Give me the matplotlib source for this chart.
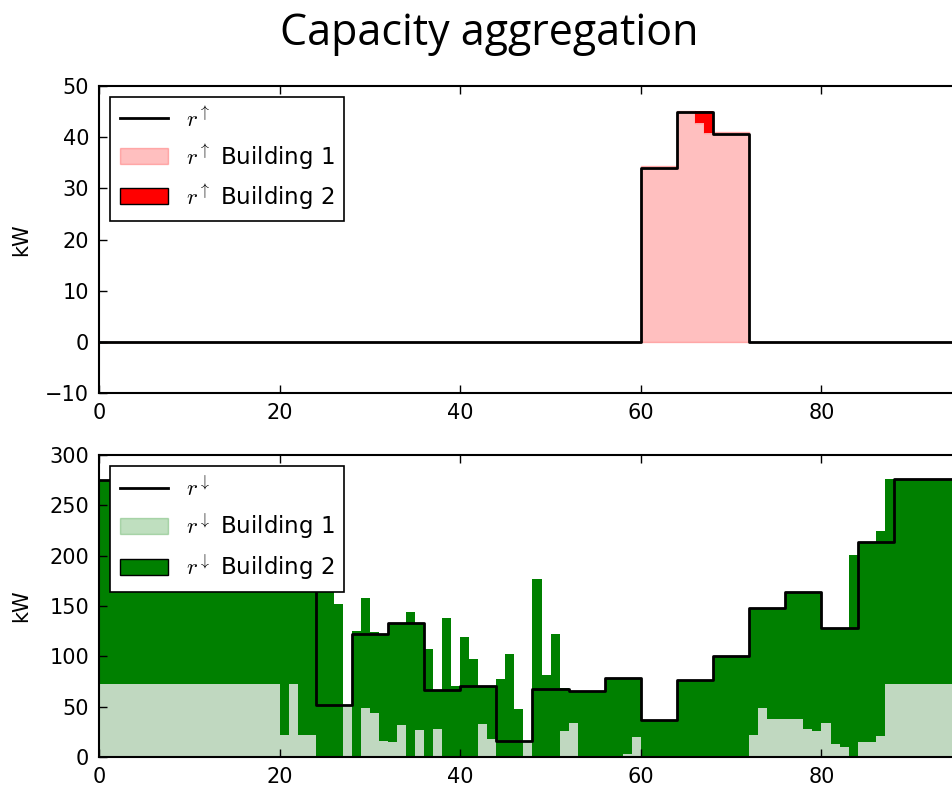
import numpy as np
import matplotlib
matplotlib.use("Agg")
import matplotlib.pyplot as plt
from matplotlib.lines import Line2D
from matplotlib.patches import Patch

plt.rcParams["mathtext.fontset"] = "cm"
plt.rcParams["font.family"] = "DejaVu Sans"

# quarter-hour steps 0..95
steps = np.arange(96)
# hourly aggregate is drawn every 4 steps
hours = np.arange(24) * 4

# --- upward capacity (kW) ---
up_b1 = [
    0, 0, 0, 0, 0, 0, 0, 0, 0, 0, 0, 0, 0, 0, 0, 0,
    0, 0, 0, 0, 0, 0, 0, 0, 0, 0, 0, 0, 0, 0, 0, 0,
    0, 0, 0, 0, 0, 0, 0, 0, 0, 0, 0, 0, 0, 0, 0, 0,
    0, 0, 0, 0, 0, 0, 0, 0, 0, 0, 0, 0, 34.3, 34.3, 34.3, 34.3,
    45.2, 45.2, 42.7, 40.9, 41.0, 41.0, 41.0, 41.0, 0, 0, 0, 0, 0, 0, 0, 0,
    0, 0, 0, 0, 0, 0, 0, 0, 0, 0, 0, 0, 0, 0, 0, 0,
]
up_b2 = [
    0, 0, 0, 0, 0, 0, 0, 0, 0, 0, 0, 0, 0, 0, 0, 0,
    0, 0, 0, 0, 0, 0, 0, 0, 0, 0, 0, 0, 0, 0, 0, 0,
    0, 0, 0, 0, 0, 0, 0, 0, 0, 0, 0, 0, 0, 0, 0, 0,
    0, 0, 0, 0, 0, 0, 0, 0, 0, 0, 0, 0, 0, 0, 0, 0,
    0, 0, 2.4, 4.2, 0, 0, 0, 0, 0, 0, 0, 0, 0, 0, 0, 0,
    0, 0, 0, 0, 0, 0, 0, 0, 0, 0, 0, 0, 0, 0, 0, 0,
]
up_total = [0, 0, 0, 0, 0, 0, 0, 0, 0, 0, 0, 0,
            0, 0, 0, 34.0, 45.0, 40.7, 0, 0, 0, 0, 0, 0]

# --- downward capacity (kW) ---
down_b1 = [
    73, 73, 73, 73, 73, 73, 73, 73, 73, 73, 73, 73, 73, 73, 73, 73,
    73, 73, 73, 73, 22, 73, 22, 22, 0, 0, 0, 50, 0, 49, 44, 16,
    15, 32, 0, 27, 0, 28, 0, 0, 0, 0, 33, 18, 0, 0, 0, 15,
    0, 0, 0, 26, 34, 0, 0, 0, 0, 0, 3, 20, 0, 0, 0, 0,
    0, 0, 0, 0, 0, 0, 0, 0, 22, 49, 38, 38, 38, 38, 28, 26,
    34, 13, 10, 0, 15, 15, 21, 73, 73, 73, 73, 73, 73, 73, 73, 73,
]
down_stack = [
    275, 275, 275, 275, 275, 275, 275, 275, 275, 275, 275, 275, 275, 275, 275, 275,
    275, 275, 275, 275, 275, 275, 275, 275, 185, 180, 152, 50, 125, 158, 124, 122,
    133, 133, 144, 133, 107, 67, 138, 71, 119, 97, 71, 71, 77, 102, 48, 15,
    177, 81, 122, 69, 66, 66, 66, 66, 78, 78, 78, 78, 37, 37, 37, 37,
    76, 76, 76, 76, 100, 100, 100, 100, 148, 148, 148, 148, 164, 164, 164, 164,
    128, 128, 128, 201, 214, 214, 225, 276, 276, 276, 276, 276, 276, 276, 276, 276,
]
down_total = [275, 275, 275, 275, 275, 275, 52, 122, 133, 67, 71, 16,
              68, 66, 78, 37, 76, 100, 148, 164, 128, 214, 276, 276]


def stepped(values):
    v = np.asarray(values, dtype=float)
    return np.append(v, v[-1])


fig = plt.figure(figsize=(9.53, 7.88), dpi=100)
# axes run a little past the right edge, like the cropped original
ax1 = fig.add_axes([99 / 953, 1 - 393 / 788, 867 / 953, 307 / 788])
ax2 = fig.add_axes([99 / 953, 1 - 757 / 788, 867 / 953, 302 / 788])

xs = np.append(steps, 96)
xh = np.append(hours, 96)

# top: r up
b1 = stepped(up_b1)
b2 = stepped(up_b2)
ax1.fill_between(xs, 0, b1, step="post", color="red", alpha=0.25)
ax1.fill_between(xs, b1, b1 + b2, step="post", color="red", lw=0)
ax1.step(xh, stepped(up_total), where="post", color="black", lw=2)

# bottom: r down
d1 = stepped(down_b1)
d2 = stepped(down_stack)
ax2.fill_between(xs, 0, d1, step="post", color="#c0d8c0", lw=1)
ax2.fill_between(xs, d1, d2, step="post", color="green", lw=0)
ax2.step(xh, stepped(down_total), where="post", color="black", lw=2)

ax1.set_ylim(-10, 50)
ax1.set_yticks(np.arange(-10, 51, 10))
ax2.set_ylim(0, 300)
ax2.set_yticks(np.arange(0, 301, 50))

for ax, arrow, col in [(ax1, r"\uparrow", "red"), (ax2, r"\downarrow", "green")]:
    ax.set_xlim(0, 96)
    ax.set_xticks([0, 20, 40, 60, 80])
    ax.tick_params(direction="in", length=6, width=1, labelsize=15,
                   top=True, right=True, pad=7)
    for s in ax.spines.values():
        s.set_linewidth(1.5)
    ax.set_ylabel("kW", fontsize=15)
    ax.yaxis.set_label_coords(-0.078, 0.5)
    handles = [
        Line2D([], [], color="black", lw=2),
        Patch(facecolor=col, edgecolor=col, alpha=0.25, lw=1),
        Patch(facecolor=col, edgecolor="black", lw=1),
    ]
    labels = ["$r^{%s}$" % arrow,
              "$r^{%s}$ Building 1" % arrow,
              "$r^{%s}$ Building 2" % arrow]
    leg = ax.legend(handles, labels, loc="upper left", fontsize=16.5,
                    fancybox=False, framealpha=1, edgecolor="black",
                    handlelength=2.1, labelspacing=0.45)
    leg.get_frame().set_linewidth(1.2)

fig.text(489 / 953, 1 - 45 / 788, "Capacity aggregation", ha="center",
         va="baseline", fontsize=31, family="Open Sans")

fig.savefig("out.png", dpi=100)
